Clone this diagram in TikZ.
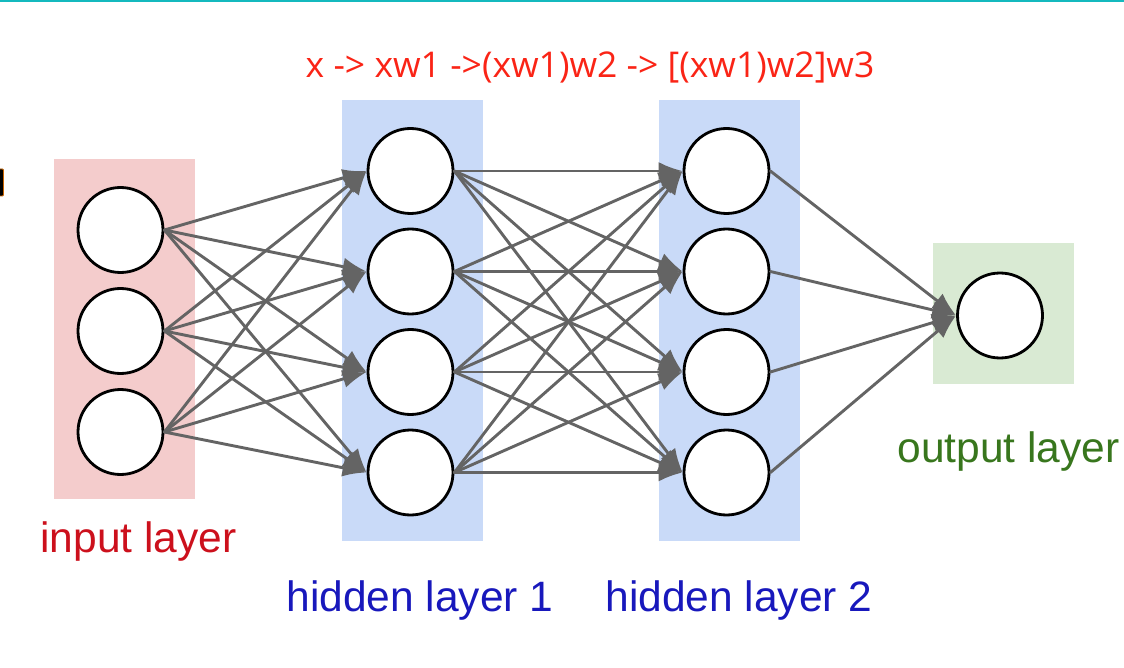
\documentclass[tikz,border=0pt]{standalone}
\usepackage{fontspec}
\setmainfont{Liberation Sans}
\newfontfamily\notefont{Open Sans}
\usetikzlibrary{arrows.meta}
\definecolor{inbg}{HTML}{F4CCCC}
\definecolor{hidbg}{HTML}{C9DAF8}
\definecolor{outbg}{HTML}{D9EAD3}
\definecolor{inred}{RGB}{204,16,28}
\definecolor{hidblue}{RGB}{24,24,188}
\definecolor{outgreen}{RGB}{56,118,29}
\definecolor{notered}{RGB}{250,36,22}
\definecolor{linkgray}{RGB}{100,100,100}
\definecolor{topline}{RGB}{20,185,190}

\begin{document}
\begin{tikzpicture}[x=1pt, y=-1pt, line cap=round, line join=round,
	neuron/.style={circle, draw=black, line width=2.8pt, fill=white, minimum size=85pt, inner sep=0pt},
	link/.style={draw=linkgray, line width=2.9pt, -{Latex[length=24pt,width=18pt]}},
	layerlabel/.style={anchor=base, font=\fontsize{42.5}{50}\selectfont}]
\useasboundingbox (0,0) rectangle (1124,668);

% window edge
\fill[topline] (0,0) rectangle (1124,2);
\draw[orange!80!black, fill=black, line width=0.8pt, rounded corners=1pt] (-4,169) rectangle (3.5,196);

%========================
% layer backgrounds
%========================
\fill[inbg] (54,159) rectangle (195,499);
\fill[hidbg] (342,100) rectangle (483,541);
\fill[hidbg] (659,100) rectangle (800,541);
\fill[outbg] (933,243) rectangle (1074,384);

%========================
% neurons
%========================
\foreach \i/\y in {1/230, 2/331, 3/432}
	\node[neuron] (in\i) at (120.5,\y) {};
\foreach \i/\y in {1/171, 2/271.5, 3/372, 4/472.5}
	\node[neuron] (ha\i) at (410.5,\y) {};
\foreach \i/\y in {1/171, 2/271.5, 3/372, 4/472.5}
	\node[neuron] (hb\i) at (726.5,\y) {};
\node[neuron] (out) at (1000,315.5) {};

%========================
% weights
%========================
\foreach \i in {1,...,3}
	\foreach \j in {1,...,4}
		\draw[link] (in\i.east) -- (ha\j.west);
\foreach \i in {1,...,4}
	\foreach \j in {1,...,4}
		\draw[link] (ha\i.east) -- (hb\j.west);
\foreach \i in {1,...,4}
	\draw[link] (hb\i.east) -- (out.west);

%========================
% labels
%========================
\node[font=\notefont\fontsize{35.5}{40}\selectfont, text=notered, anchor=base] (chain) at (590,78) {x -> xw1 ->(xw1)w2 -> [(xw1)w2]w3};
\node[layerlabel, text=inred] (inlabel) at (138.5,552) {input layer};
\node[layerlabel, text=hidblue] (halabel) at (420,611) {hidden layer 1};
\node[layerlabel, text=hidblue] (hblabel) at (739,611) {hidden layer 2};
\node[layerlabel, text=outgreen] (outlabel) at (1008.5,462) {output layer};

\end{tikzpicture}
\end{document}
